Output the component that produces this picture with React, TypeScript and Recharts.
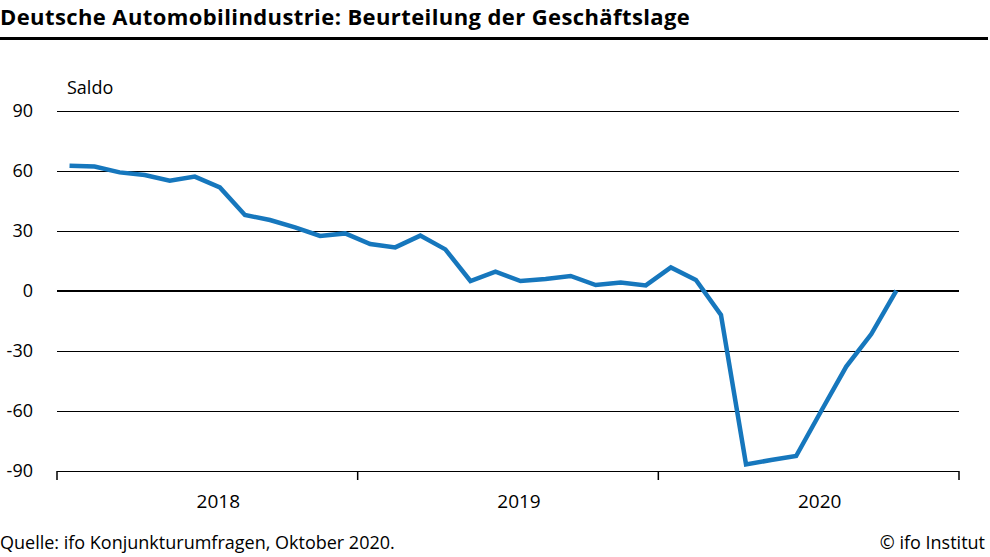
import { LineChart, Line, XAxis, YAxis, CartesianGrid, ReferenceLine } from 'recharts'

// monthly values, Jan 2018 - Oct 2020
const months = [
    'Jan 18', 'Feb 18', 'Mar 18', 'Apr 18', 'May 18', 'Jun 18', 'Jul 18', 'Aug 18', 'Sep 18', 'Oct 18', 'Nov 18', 'Dec 18',
    'Jan 19', 'Feb 19', 'Mar 19', 'Apr 19', 'May 19', 'Jun 19', 'Jul 19', 'Aug 19', 'Sep 19', 'Oct 19', 'Nov 19', 'Dec 19',
    'Jan 20', 'Feb 20', 'Mar 20', 'Apr 20', 'May 20', 'Jun 20', 'Jul 20', 'Aug 20', 'Sep 20', 'Oct 20',
]
const saldo = [
    62.6, 62.2, 59.3, 58.0, 55.2, 57.2, 51.8, 38.0, 35.5, 31.8, 27.5, 28.8,
    23.5, 21.8, 27.7, 20.8, 5.0, 9.7, 5.0, 6.0, 7.5, 3.0, 4.3, 2.8,
    11.8, 5.5, -12.0, -86.7, -84.5, -82.5, -60.0, -37.8, -21.5, 0.2,
]
const years = ['2018', '2019', '2020']
const yTicks = [-90, -60, -30, 0, 30, 60, 90]

// x = month index + 0.5 so points sit in the middle of each month
const data = months.map((m, i) => ({ month: m, x: i + 0.5, saldo: saldo[i] }))
const yearBounds = years.map((_, i) => i * 12).concat([years.length * 12])
const yearMids = years.map((_, i) => i * 12 + 6)

const font = '"Open Sans", "Noto Sans", sans-serif'

export default function App() {
    return (
        <div style={{ position: 'absolute', left: 0, top: 0, width: 990, height: 557, background: '#fff', fontFamily: font, color: '#000' }}>
            <div style={{ position: 'absolute', left: 0, top: 1, fontSize: 22, fontWeight: 'bold', letterSpacing: 0.4, whiteSpace: 'nowrap' }}>
                Deutsche Automobilindustrie: Beurteilung der Geschäftslage
            </div>
            <div style={{ position: 'absolute', left: 0, top: 37, width: 988, height: 3, background: '#000' }} />
            <div style={{ position: 'absolute', left: 67, top: 75, fontSize: 18 }}>Saldo</div>
            <div style={{ position: 'absolute', top: 0, left: 0 }}>
                <LineChart width={990} height={557} data={data} margin={{ top: 111, right: 31, left: 0, bottom: 0 }}>
                    <CartesianGrid vertical={false} stroke="#000" strokeWidth={1} shapeRendering="crispEdges" />
                    <XAxis
                        xAxisId="m"
                        dataKey="x"
                        type="number"
                        domain={[0, 36]}
                        ticks={yearBounds}
                        tick={() => <g />}
                        tickSize={9}
                        height={10}
                        stroke="#000"
                        axisLine={{ stroke: '#000', strokeWidth: 1, shapeRendering: 'crispEdges' }}
                        tickLine={{ stroke: '#000', strokeWidth: 1.5 }}
                    />
                    <XAxis
                        xAxisId="y"
                        dataKey="x"
                        type="number"
                        domain={[0, 36]}
                        ticks={yearMids}
                        tickFormatter={(v: number) => years[Math.floor(v / 12)]}
                        axisLine={false}
                        tickLine={false}
                        tick={{ fill: '#000', fontSize: 19, fontFamily: font, dx: 11 }}
                        tickMargin={8}
                        height={76}
                    />
                    <YAxis
                        type="number"
                        domain={[-90, 90]}
                        ticks={yTicks}
                        axisLine={false}
                        tickLine={false}
                        tickMargin={18}
                        width={57}
                        tick={{ fill: '#000', fontSize: 18, fontFamily: font }}
                    />
                    <ReferenceLine xAxisId="m" y={0} stroke="#000" strokeWidth={2} shapeRendering="crispEdges" />
                    <Line
                        xAxisId="m"
                        dataKey="saldo"
                        type="linear"
                        stroke="#1677bd"
                        strokeWidth={4.5}
                        dot={false}
                        isAnimationActive={false}
                    />
                </LineChart>
            </div>
            <div style={{ position: 'absolute', left: 0, top: 530, fontSize: 18, whiteSpace: 'nowrap' }}>
                Quelle: ifo Konjunkturumfragen, Oktober 2020.
            </div>
            <div style={{ position: 'absolute', right: 5, top: 530, fontSize: 18, whiteSpace: 'nowrap' }}>© ifo Institut</div>
        </div>
    )
}
